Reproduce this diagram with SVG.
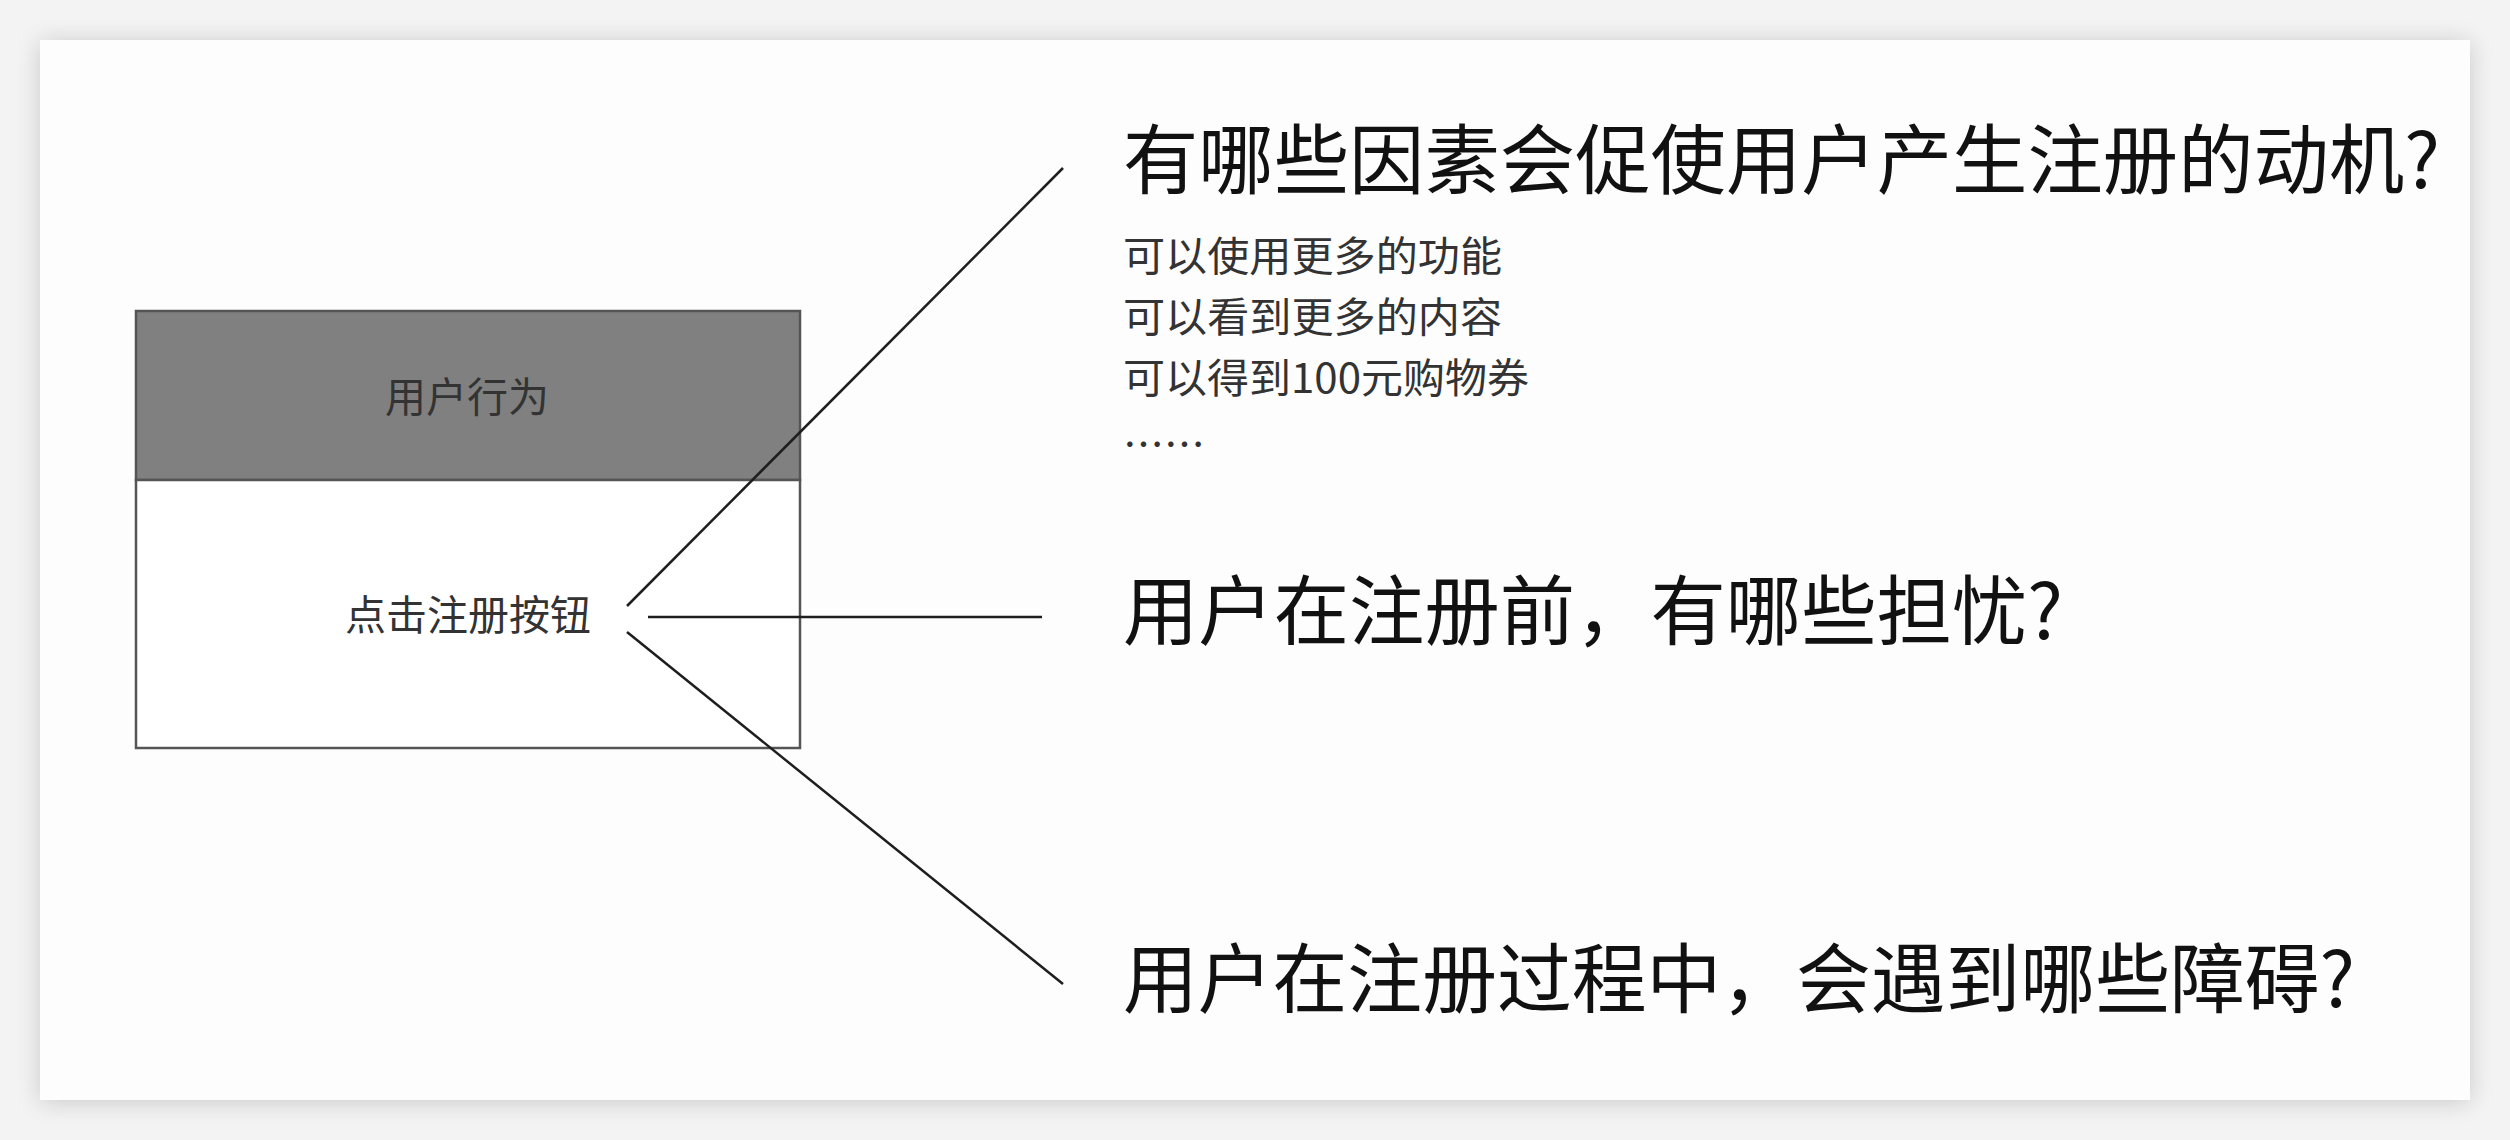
<svg xmlns="http://www.w3.org/2000/svg" width="2510" height="1140" viewBox="0 0 2510 1140">
  <defs>
    <filter id="shadow" x="-5%" y="-5%" width="110%" height="110%">
      <feGaussianBlur in="SourceAlpha" stdDeviation="12"/>
      <feOffset dx="0" dy="2" result="b"/>
      <feComponentTransfer><feFuncA type="linear" slope="0.18"/></feComponentTransfer>
      <feMerge><feMergeNode/><feMergeNode in="SourceGraphic"/></feMerge>
    </filter>
  </defs>
  <style>
    text { font-family: "Noto Sans CJK SC", "Noto Sans", sans-serif; }
    .big { font-size: 76px; fill: #111; }
    .small { font-size: 41px; fill: #333; }
    .box { font-size: 41px; fill: #333; text-anchor: middle; }
    .conn { stroke: #1e1e1e; stroke-width: 2.5; fill: none; }
  </style>
  <rect x="0" y="0" width="2510" height="1140" fill="#f3f3f3"/>
  <rect x="40" y="40" width="2430" height="1060" fill="#fdfdfd" filter="url(#shadow)"/>

  <g id="node-user-behavior">
    <rect x="136" y="311" width="664" height="169" fill="#808080" stroke="#555" stroke-width="2.5"/>
    <text class="box" x="467" y="412">用户行为</text>
  </g>
  <g id="node-click-register">
    <rect x="136" y="480" width="664" height="268" fill="#ffffff" stroke="#555" stroke-width="2.5"/>
    <text class="box" x="468" y="630">点击注册按钮</text>
  </g>

  <g id="connectors">
    <line class="conn" x1="627" y1="606" x2="1063" y2="168"/>
    <line class="conn" x1="648" y1="617" x2="1042" y2="617"/>
    <line class="conn" x1="627" y1="632" x2="1063" y2="984"/>
  </g>

  <g id="node-motivation">
    <text class="big" x="1123" y="188" textLength="1317" lengthAdjust="spacingAndGlyphs">有哪些因素会促使用户产生注册的动机?</text>
    <text class="small" x="1123" y="271" textLength="379" lengthAdjust="spacingAndGlyphs">可以使用更多的功能</text>
    <text class="small" x="1123" y="332" textLength="379" lengthAdjust="spacingAndGlyphs">可以看到更多的内容</text>
    <text class="small" x="1123" y="393" textLength="406" lengthAdjust="spacingAndGlyphs">可以得到100元购物券</text>
    <text class="small" x="1123" y="460" textLength="82" lengthAdjust="spacingAndGlyphs">……</text>
  </g>
  <g id="node-worries">
    <text class="big" x="1123" y="639" textLength="940" lengthAdjust="spacingAndGlyphs">用户在注册前，有哪些担忧?</text>
  </g>
  <g id="node-obstacles">
    <text class="big" x="1123" y="1007" textLength="1232" lengthAdjust="spacingAndGlyphs">用户在注册过程中，会遇到哪些障碍?</text>
  </g>
</svg>
